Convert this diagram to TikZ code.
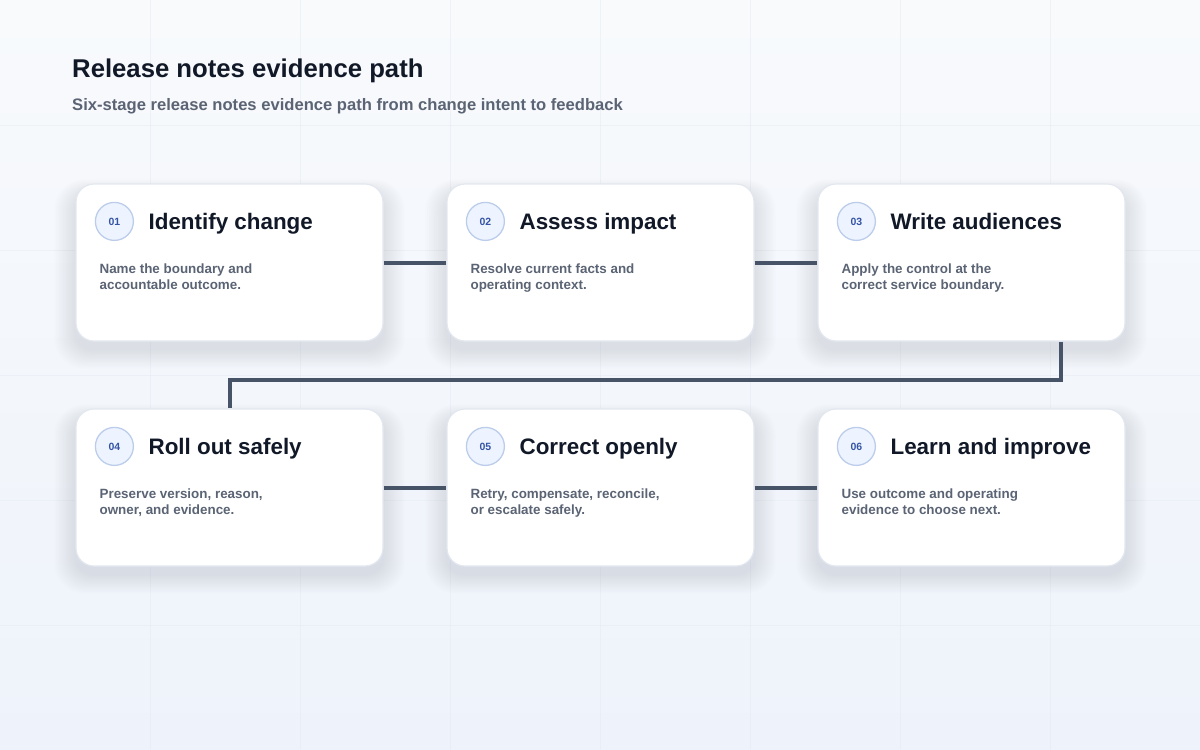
\documentclass[tikz,border=0pt]{standalone}
\usepackage{fontspec}
\setmainfont{Liberation Sans}
\usetikzlibrary{calc}
\definecolor{bgtop}{HTML}{F8FAFC}
\definecolor{bgbot}{HTML}{EEF3FB}
\definecolor{gridc}{HTML}{E6EBF2}
\definecolor{cardline}{HTML}{E3E8F0}
\definecolor{shadowc}{HTML}{7C8BA8}
\definecolor{circfill}{HTML}{EEF4FF}
\definecolor{circline}{HTML}{BCCDEB}
\definecolor{numc}{HTML}{3554A5}
\definecolor{titlec}{HTML}{111827}
\definecolor{descc}{HTML}{5B6474}
\definecolor{linkc}{HTML}{475467}
\begin{document}
\begin{tikzpicture}[x=1pt,y=-1pt,
  card/.style={draw=cardline, line width=1.2pt, fill=white, rounded corners=18pt,
    minimum width=307pt, minimum height=157pt, inner sep=0pt},
  badge/.style={circle, draw=circline, line width=1.3pt, fill=circfill,
    minimum size=38pt, inner sep=0pt, font=\fontsize{10.5}{12}\selectfont\bfseries, text=numc},
  stitle/.style={anchor=base west, inner sep=0pt, font=\fontsize{22.4}{26}\selectfont\bfseries, text=titlec},
  sdesc/.style={anchor=north west, inner sep=0pt, align=left,
    font=\fontsize{13.4}{16}\selectfont\bfseries, text=descc},
  link/.style={draw=linkc, line width=4pt}
]
\useasboundingbox (0,0) rectangle (1200,750);
\shade[top color=bgtop, bottom color=bgbot] (0,0) rectangle (1200,750);
\foreach \gx in {150,300,...,1050} \draw[gridc, line width=0.8pt, opacity=0.5] (\gx,0) -- (\gx,750);
\foreach \gy in {125,250,...,625} \draw[gridc, line width=0.8pt, opacity=0.5] (0,\gy) -- (1200,\gy);

\node[anchor=west, inner sep=0pt, font=\fontsize{25.7}{30}\selectfont\bfseries, text=titlec] (title) at (72,71) {Release notes evidence path};
\node[anchor=west, inner sep=0pt, font=\fontsize{16.6}{19}\selectfont\bfseries, text=descc] (subtitle) at (72,106) {Six-stage release notes evidence path from change intent to feedback};

% shadows
\foreach \cx/\cy in {76/184,447/184,818/184,76/409,447/409,818/409}{
  \foreach \i in {1,...,12}{
    \fill[shadowc, opacity=0.015, rounded corners=18pt+\i pt]
      (\cx-\i*1.8, \cy+10-\i*1.2) rectangle (\cx+307+\i*1.8, \cy+157+8+\i*1.6);
  }
}

\node[card] (c1) at (229.5,262.5) {};
\node[card] (c2) at (600.5,262.5) {};
\node[card] (c3) at (971.5,262.5) {};
\node[card] (c4) at (229.5,487.5) {};
\node[card] (c5) at (600.5,487.5) {};
\node[card] (c6) at (971.5,487.5) {};

\foreach \n/\num/\t/\d in {
  c1/01/Identify change/{Name the boundary and\\accountable outcome.},
  c2/02/Assess impact/{Resolve current facts and\\operating context.},
  c3/03/Write audiences/{Apply the control at the\\correct service boundary.},
  c4/04/Roll out safely/{Preserve version, reason,\\owner, and evidence.},
  c5/05/Correct openly/{Retry, compensate, reconcile,\\or escalate safely.},
  c6/06/Learn and improve/{Use outcome and operating\\evidence to choose next.}}{
  \node[badge] (\n b) at ($(\n.north west)+(39,38)$) {\num};
  \node[stitle] (\n t) at ($(\n.north west)+(73,46.3)$) {\t};
  \node[sdesc] (\n d) at ($(\n.north west)+(24,80.5)$) {\d};
}

\coordinate (k3) at ($(c3.south west)+(244,0)$);
\draw[link] (c1.east) -- (c2.west);
\draw[link] (c2.east) -- (c3.west);
\draw[link] (k3) -- ++(0,38) -| (c4.north);
\draw[link] (c4.east) -- (c5.west);
\draw[link] (c5.east) -- (c6.west);
\end{tikzpicture}
\end{document}
